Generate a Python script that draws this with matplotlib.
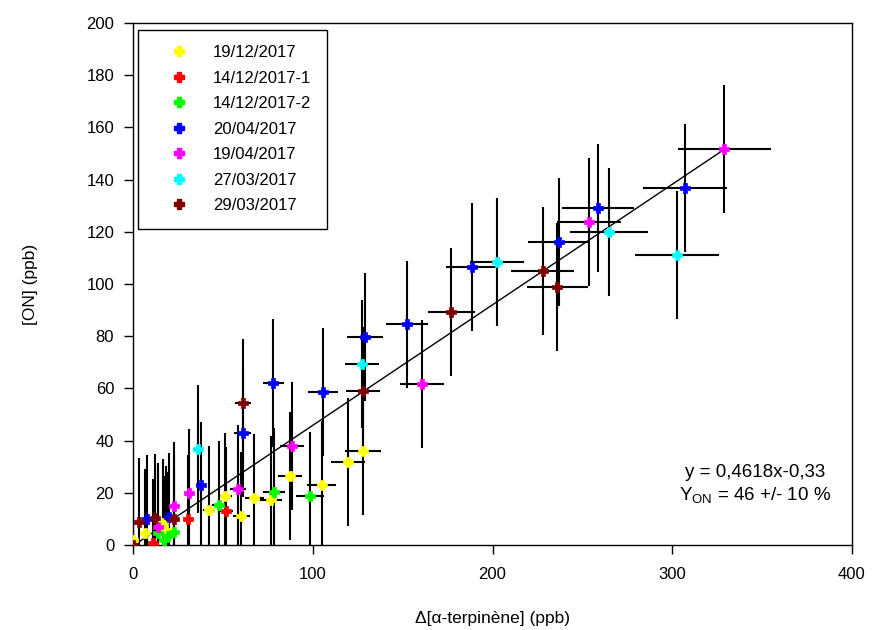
import matplotlib
matplotlib.use("Agg")
import matplotlib.pyplot as plt
from matplotlib.lines import Line2D
import numpy as np

plt.rcParams['font.family'] = ['Liberation Sans', 'DejaVu Sans']
plt.rcParams['mathtext.fontset'] = 'custom'
plt.rcParams['mathtext.rm'] = 'Liberation Sans'

# ---- data ----
labels = ["19/12/2017", "14/12/2017-1", "14/12/2017-2", "20/04/2017",
          "19/04/2017", "27/03/2017", "29/03/2017"]
colors = ["#FFFF00", "#FF0000", "#00FF00", "#0000FF", "#FF00FF", "#00FFFF", "#800000"]

yel_x = [0, 6.7, 16.7, 18.2, 42.3, 51.2, 60.3, 67.5, 76.8, 87.3, 105, 119.6, 128]
yel_y = [2, 4.6, 8.4, 5.7, 13.6, 18.6, 11, 18, 17.2, 26.4, 23, 31.8, 36]
yel_xe = [0, 0.5, 1.3, 1.4, 3.3, 3.9, 4.6, 5.2, 5.9, 6.7, 8.1, 9.2, 9.8]

red_x = [11, 30.6, 51.5]
red_y = [0.8, 10, 13]
red_xe = [0.8, 2.4, 4.0]

grn_x = [13.9, 17, 19.5, 22.8, 47.8, 78.4, 98.5]
grn_y = [4.6, 2, 3.5, 4.8, 15.5, 20.3, 18.8]
grn_xe = [1.1, 1.3, 1.5, 1.8, 3.7, 6.0, 7.6]

blu_x = [7.8, 19.8, 37.8, 61, 78, 105.7, 129, 152.4, 188.6, 237, 258.7, 307]
blu_y = [10, 10.7, 22.8, 43, 62, 58.5, 79.7, 84.5, 106.5, 116, 129, 136.8]
blu_xe = [0.6, 1.5, 2.9, 4.7, 5.8, 8.1, 10, 11.6, 14.2, 17.5, 20, 23.5]

mag_x = [14, 23, 31.2, 58.4, 88.5, 160.8, 253.7, 329]
mag_y = [7, 14.8, 20, 21.5, 38, 61.7, 123.8, 151.7]
mag_xe = [1.1, 1.8, 2.4, 4.5, 6.8, 12, 18, 26]

cya_x = [36.2, 127.4, 202.5, 264.8, 302.6]
cya_y = [36.8, 69.3, 108.4, 120, 111]
cya_xe = [2.8, 9.5, 15, 21.5, 23.5]

drd_x = [0, 3.4, 12.2, 23, 61.2, 128, 177, 228, 236]
drd_y = [0, 8.8, 10.5, 10, 54.4, 59, 89.3, 105, 99]
drd_xe = [0, 0.3, 0.9, 1.8, 4.7, 9.5, 13, 17.5, 17]

y_err = 24.5  # constant vertical uncertainty (ppb)

slope = 0.4618
intercept = -0.33
fit_x = [0, 329]

series = [
    (yel_x, yel_y, yel_xe), (red_x, red_y, red_xe), (grn_x, grn_y, grn_xe),
    (blu_x, blu_y, blu_xe), (mag_x, mag_y, mag_xe), (cya_x, cya_y, cya_xe),
    (drd_x, drd_y, drd_xe),
]

x_ticks = [0, 100, 200, 300, 400]
y_ticks = [0, 20, 40, 60, 80, 100, 120, 140, 160, 180, 200]

# ---- figure ----
fig = plt.figure(figsize=(8.76, 6.30), dpi=100)
ax = fig.add_axes([133/876, 85/630, 719/876, 522/630])

for (xs, ys, xe) in series:
    ax.errorbar(xs, ys, xerr=xe, yerr=y_err, fmt='none', ecolor='black',
                elinewidth=1.5, capsize=0, zorder=2)

fx = np.array(fit_x, dtype=float)
ax.plot(fx, slope * fx + intercept, color='black', lw=1.0, zorder=2.5)

for (xs, ys, xe), c in zip(series, colors):
    ax.plot(xs, ys, linestyle='none', marker='P', markersize=7.5,
            markerfacecolor=c, markeredgecolor=c, markeredgewidth=0.5, zorder=3)

ax.set_xlim(0, 400)
ax.set_ylim(0, 200)
ax.set_xticks(x_ticks)
ax.set_yticks(y_ticks)
ax.tick_params(direction='out', length=6.5, width=1.0, labelsize=12, colors='black')
ax.tick_params(axis='x', pad=9)
ax.tick_params(axis='y', pad=7)
for s in ax.spines.values():
    s.set_linewidth(1.0)
    s.set_color('black')

ax.set_xlabel("Δ[α-terpinène] (ppb)", fontsize=12.5, labelpad=21)
ax.set_ylabel("[ON] (ppb)", fontsize=12.5, labelpad=35)

handles = [Line2D([], [], linestyle='none', marker='P', markersize=7.5,
                  markerfacecolor=c, markeredgecolor=c) for c in colors]
leg = ax.legend(handles, labels, loc='upper left', bbox_to_anchor=(0.007, 0.987),
                borderaxespad=0, fontsize=12, frameon=True, fancybox=False,
                edgecolor='black', framealpha=1, handlelength=3.0,
                handletextpad=0.55, labelspacing=0.63, borderpad=0.93)
leg.get_frame().set_linewidth(1.0)

ax.text(346, 27.6, "y = 0,4618x-0,33", ha='center', va='center', fontsize=13.5)
ax.text(346, 18.8, r"Y$_{\mathrm{ON}}$ = 46 +/- 10 %", ha='center', va='center', fontsize=13.5)

fig.savefig("out.png", dpi=100)
